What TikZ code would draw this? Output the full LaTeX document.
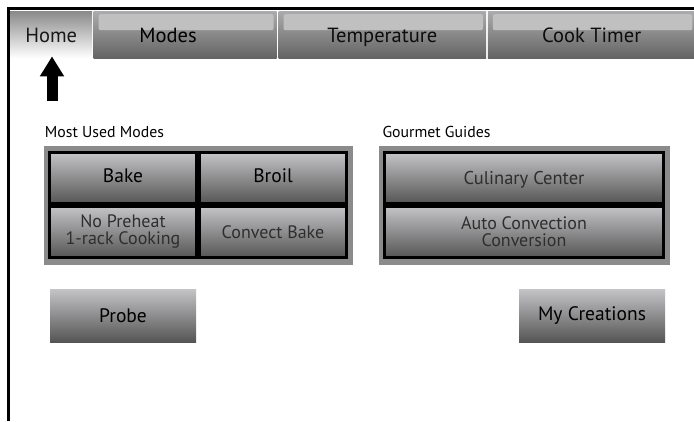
\documentclass[tikz,border=0pt]{standalone}
\usepackage{fontspec}
\setmainfont{PT Sans}
\usetikzlibrary{arrows.meta, positioning, fit, backgrounds}

\definecolor{tabtop}{HTML}{ABABAD}
\definecolor{tabbot}{HTML}{646464}
\definecolor{tabshine}{HTML}{C0C0C0}
\definecolor{hometop}{HTML}{8A8A8A}
\definecolor{btntop}{HTML}{C4C4C7}
\definecolor{btnbot}{HTML}{555555}
\definecolor{framegray}{HTML}{8B8B8B}
\definecolor{softtext}{HTML}{2E2E2E}

\begin{document}
\begin{tikzpicture}[
    x=1pt, y=-1pt,
    font=\fontsize{20.5}{22}\selectfont,
    tabtext/.style={text height=17pt, text depth=2pt},
    tab/.style={
      anchor=north west,
      inner sep=0pt,
      minimum height=47pt,
      tabtext,
      top color=tabtop,
      bottom color=tabbot,
      text=black!95,
      path picture={
        \fill[tabshine, rounded corners=2pt]
          ([shift={(5pt,-3pt)}]path picture bounding box.north west)
          rectangle ([shift={(-3pt,-19pt)}]path picture bounding box.north east);
      }
    },
    hometab/.style={
      anchor=north west,
      inner sep=0pt,
      minimum width=82pt,
      minimum height=47pt,
      tabtext,
      top color=hometop,
      bottom color=white,
      text=black!90
    },
    modebtn/.style={
      draw=black,
      line width=3pt,
      top color=btntop,
      bottom color=btnbot,
      minimum width=147pt,
      minimum height=51pt,
      inner sep=0pt,
      align=center,
      font=\fontsize{19.5}{20}\selectfont
    },
    oneline/.style={text height=13pt, text depth=5pt},
    softline/.style={text height=13pt, text depth=1pt},
    softbtn/.style={
      modebtn,
      text=softtext,
      font=\fontsize{18}{17}\selectfont
    },
    guidebtn/.style={
      softbtn,
      minimum width=279pt
    },
    plainbtn/.style={
      top color=btntop,
      bottom color=btnbot,
      minimum width=146pt,
      minimum height=53pt,
      inner sep=0pt,
      font=\fontsize{19.5}{20}\selectfont
    },
    groupframe/.style={fill=framegray, inner xsep=4.5pt, inner ysep=5.5pt},
    grouplabel/.style={
      anchor=base west,
      inner sep=0pt,
      font=\fontsize{15.8}{16}\selectfont
    },
    ptr/.style={line width=11pt, -{Triangle[width=23pt, length=20pt]}}
  ]

  \useasboundingbox (0,0) rectangle (694,421);

  % screen edge
  \draw[line width=3pt] (8.8,421) -- (8.8,8.8) -- (694,8.8);

  % tab bar
  \node[hometab] (home) at (10,11) {Home};
  \node[tab, minimum width=183pt, right=1pt of home.north east, anchor=north west,
        label={[tabtext, inner sep=0pt, xshift=-17pt]center:Modes}] (modes) {};
  \node[tab, minimum width=207.5pt, right=1.5pt of modes.north east, anchor=north west] (temp) {Temperature};
  \node[tab, minimum width=207.5pt, right=1.5pt of temp.north east, anchor=north west] (timer) {Cook Timer};

  \coordinate (ptrtail) at (52,101);
  \draw[ptr, shorten >=-2pt] (ptrtail) -- (ptrtail |- home.south);

  % most used modes
  \node[modebtn, oneline] (bake) at (123,178) {Bake};
  \node[modebtn, oneline, right=0pt of bake] (broil) {Broil};
  \node[softbtn, below=0pt of bake] (nopreheat) {No Preheat\\1-rack Cooking};
  \node[softbtn, softline, below=0pt of broil] (convect) {Convect Bake};
  \begin{scope}[on background layer]
    \node[groupframe, fit=(bake)(convect)] (usedframe) {};
  \end{scope}
  \node[grouplabel] (usedlabel) at ([shift={(1.5pt,7.5pt)}]usedframe.north west) {Most Used Modes};

  % gourmet guides
  \node[guidebtn, softline, font=\fontsize{18.5}{17}\selectfont] (culinary) at (524,178) {Culinary Center};
  \node[guidebtn, below=0pt of culinary] (autoconv) {Auto Convection\\Conversion};
  \begin{scope}[on background layer]
    \node[groupframe, fit=(culinary)(autoconv)] (guideframe) {};
  \end{scope}
  \node[grouplabel] (guidelabel) at ([shift={(4pt,7.5pt)}]guideframe.north west) {Gourmet Guides};

  % bottom buttons
  \node[plainbtn] (probe) at (123,315.5) {Probe};
  \node[plainbtn] (creations) at (592,315.5) {My Creations};

\end{tikzpicture}
\end{document}
